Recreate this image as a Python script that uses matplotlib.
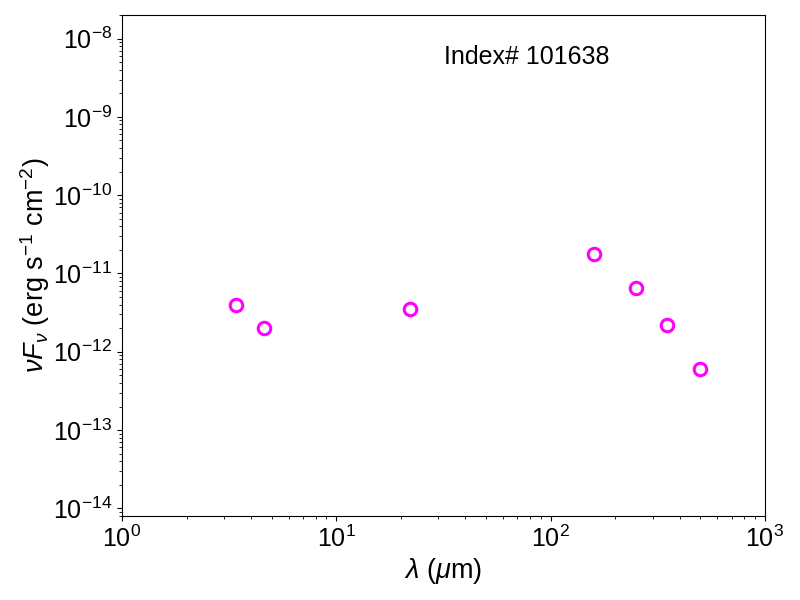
import matplotlib
matplotlib.use("Agg")
import matplotlib.pyplot as plt

plt.rcParams['font.family'] = ['Liberation Sans', 'DejaVu Sans']
plt.rcParams['mathtext.fontset'] = 'custom'
plt.rcParams['mathtext.rm'] = 'Liberation Sans'
plt.rcParams['mathtext.it'] = 'Liberation Sans:italic'
plt.rcParams['mathtext.bf'] = 'Liberation Sans:bold'

wavelength = [3.4, 4.6, 22, 160, 250, 350, 500]
nufnu = [4.0e-12, 2.0e-12, 3.5e-12, 1.78e-11, 6.6e-12, 2.2e-12, 6.1e-13]
label_text = "Index# 101638"

fig = plt.figure(figsize=(8, 6), dpi=100)
ax = fig.add_axes([0.1525, 0.14, 0.8035, 0.835])
ax.plot(wavelength, nufnu, 'o', mfc='none', mec='magenta', ms=9, mew=2.2, linestyle='none')
ax.set_xscale('log')
ax.set_yscale('log')
ax.set_xlim(1, 1000)
ax.set_ylim(8e-15, 2e-8)
ax.set_xlabel(r'$\lambda$ ($\mu$m)', fontsize=19.5, labelpad=3)
ax.set_ylabel(r'$\nu F_\nu$ (erg s$^{-1}$ cm$^{-2}$)', fontsize=19.5, labelpad=1)
ax.tick_params(axis='both', which='major', labelsize=18)
ax.text(0.63, 0.916, label_text, transform=ax.transAxes, fontsize=18, ha='center', va='center')
fig.savefig('out.png', dpi=100)
